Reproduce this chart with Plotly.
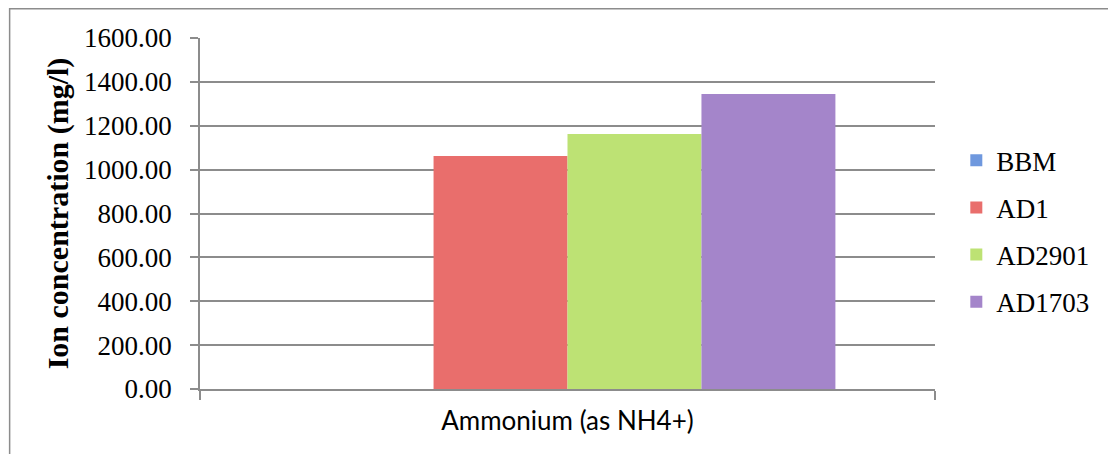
import plotly.graph_objects as go

categories = ["Ammonium (as NH4+)"]
series_names = ["BBM", "AD1", "AD2901", "AD1703"]
bbm = [0.0]
ad1 = [1062.0]
ad2901 = [1162.0]
ad1703 = [1345.0]
series_values = [bbm, ad1, ad2901, ad1703]
series_colors = ["#6f98de", "#e96e6c", "#bde274", "#a485ca"]

y_ticks = [0, 200, 400, 600, 800, 1000, 1200, 1400, 1600]

serif = "Liberation Serif"
sans = "Lato"

fig = go.Figure()
for name, vals, col in zip(series_names, series_values, series_colors):
    fig.add_trace(go.Bar(
        x=categories, y=vals, name=name,
        marker=dict(color=col, line=dict(width=0)),
        legendgroup=name,
    ))

fig.update_layout(
    width=1108, height=446,
    margin=dict(l=192, r=181, t=30, b=65, autoexpand=False),
    paper_bgcolor="white", plot_bgcolor="white",
    barmode="group", bargap=0.271, bargroupgap=0,
    showlegend=True,
    legend=dict(
        x=1.029, y=0.72, xanchor="left", yanchor="top",
        font=dict(family=serif, size=27, color="#000000"),
        tracegroupgap=9, traceorder="grouped",
        itemwidth=30, bgcolor="rgba(0,0,0,0)",
    ),
    yaxis=dict(
        range=[0, 1600], tickvals=y_ticks, tickformat=".2f",
        showgrid=True, gridcolor="#8c8c8c", gridwidth=1.5,
        showline=True, linecolor="#8c8c8c", linewidth=1.5,
        ticks="outside", ticklen=8, tickcolor="#8c8c8c", tickwidth=1.5,
        ticklabelstandoff=13,
        tickfont=dict(family=serif, size=27, color="#000000"),
        zeroline=False,
        title=dict(text="<b>Ion concentration (mg/l)</b>", standoff=7,
                   font=dict(family=serif, size=30, color="#000000")),
        automargin=False,
    ),
    xaxis=dict(
        showline=True, linecolor="#8c8c8c", linewidth=1.5,
        ticks="outside", ticklen=9, tickcolor="#8c8c8c", tickwidth=1.5,
        tickson="boundaries", ticklabelstandoff=8,
        tickfont=dict(family=sans, size=26, color="#000000"),
        showgrid=False, automargin=False,
    ),
)

fig.add_shape(type="rect", xref="paper", yref="paper",
              x0=-0.259, x1=2.0, y0=-1.0, y1=1.083,
              line=dict(color="#8c8c8c", width=1.5), fillcolor="rgba(0,0,0,0)",
              layer="below")

fig.write_html("out.html")
